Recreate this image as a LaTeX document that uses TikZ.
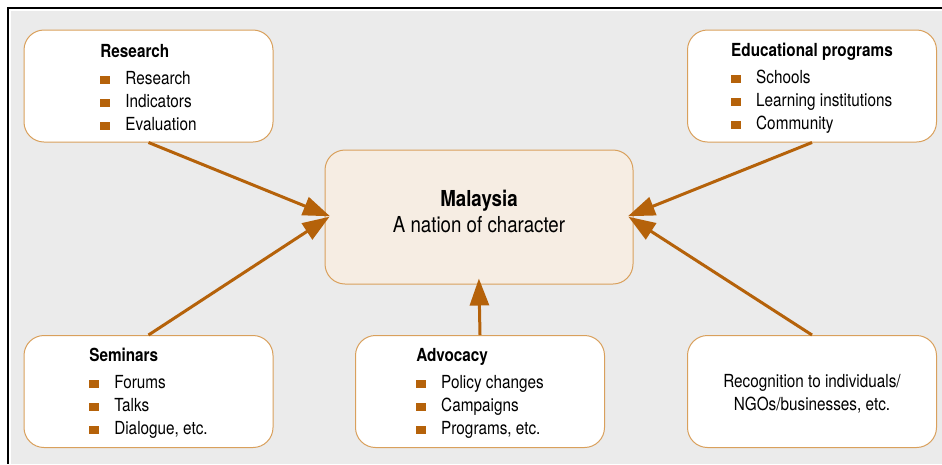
\documentclass[tikz,border=0pt]{standalone}
\usepackage{fontspec}
\setmainfont{TeX Gyre Heros}[FakeStretch=0.85]
\usepackage{tikz}
\usetikzlibrary{arrows.meta, positioning}
\usepackage{xcolor}

\definecolor{rust}{HTML}{B5620A}
\definecolor{edge}{HTML}{D9A05C}
\definecolor{panel}{HTML}{EBEBEB}
\definecolor{core}{HTML}{F6EDE3}

\newcommand{\itm}{\textcolor{rust}{\rule{9.5pt}{8.5pt}}\hspace{15.5pt}}

\begin{document}
\begin{tikzpicture}[
  x=1pt, y=-1pt,
  box/.style={draw=edge, line width=1pt, fill=white, rounded corners=20pt,
    minimum width=249pt, minimum height=112pt, inner sep=0pt},
  list/.style={align=left, font=\fontsize{18}{23}\selectfont},
  hub/.style={draw=edge, line width=1pt, fill=core, rounded corners=20pt,
    minimum width=308pt, minimum height=134pt, inner sep=0pt},
  arrow/.style={-{Triangle[length=27pt, width=19pt]}, draw=rust, fill=rust,
    line width=3pt, shorten >=-6pt}
]
  \useasboundingbox (0,0) rectangle (942,464);
  \fill[panel] (11,11) rectangle (942,464);
  \draw[line width=1.5pt] (942,8) -- (8,8) -- (8,464);

  \node[hub] (center) at (479,217) {};
  \node[align=center, font=\fontsize{22}{26}\selectfont] (motto) at (479,211)
    {\textbf{Malaysia}\\A nation of character};

  % outer boxes, text set a little below the box middle
  \node[box] (research) at (148.5,86) {};
  \node[list] (researchtxt) at (148.5,87.5)
    {\textbf{Research}\\[4pt]\itm Research\\\itm Indicators\\\itm Evaluation};
  \node[box] (edu) at (812,86) {};
  \node[list] (edutxt) at (812,88)
    {\textbf{Educational programs}\\[4pt]\itm Schools\\\itm Learning institutions\\\itm Community};
  \node[box] (seminars) at (148.5,391.5) {};
  \node[list] (seminarstxt) at (148.5,393)
    {\textbf{Seminars}\\[4pt]\itm Forums\\\itm Talks\\\itm Dialogue, etc.};
  \node[box] (advocacy) at (480,391.5) {};
  \node[list] (advocacytxt) at (480,393)
    {\textbf{Advocacy}\\[4pt]\itm Policy changes\\\itm Campaigns\\\itm Programs, etc.};
  \node[box] (recog) at (812,391.5) {};
  \node[list, align=center] (recogtxt) at (812,393.5)
    {Recognition to individuals/\\NGOs/businesses, etc.};

  % everything points into the hub
  \draw[arrow] (research.south) -- ([yshift=3pt]center.west);
  \draw[arrow] (seminars.north) -- ([yshift=-3pt]center.west);
  \draw[arrow] (edu.south) -- ([yshift=3pt]center.east);
  \draw[arrow] (recog.north) -- ([yshift=-3pt]center.east);
  \draw[arrow] (advocacy.north) -- (center.south);
\end{tikzpicture}
\end{document}
